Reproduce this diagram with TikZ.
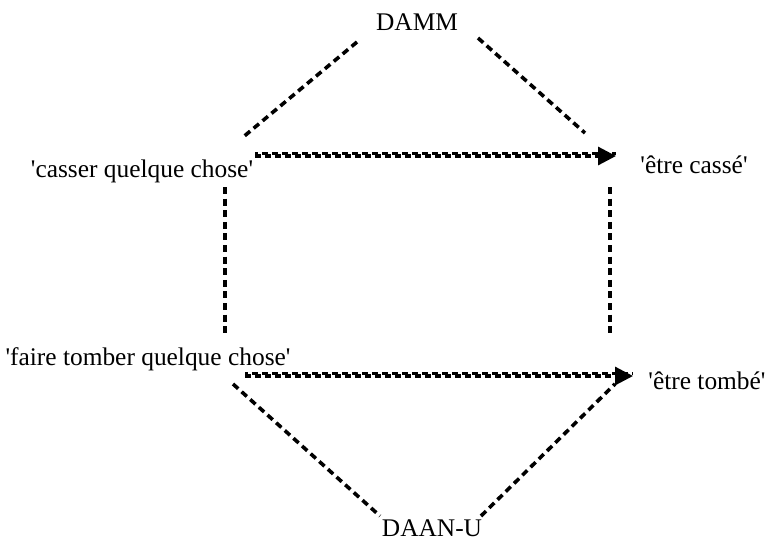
\documentclass[tikz,border=0pt]{standalone}
\usepackage{fontspec}
\setmainfont{Liberation Serif}[Ligatures=TeXOff]
\usetikzlibrary{arrows.meta}
\newcommand{\dlink}[2]{\draw[dlink] (#1) -- (#2);}
\newcommand{\darrow}[2]{\draw[darrow] (#1) -- (#2);}

\begin{document}
\begin{tikzpicture}[x=0.5pt, y=-0.5pt,
    every node/.style={font=\fontsize{12.7}{15}\selectfont, inner sep=0pt},
    dlink/.style={line width=1.8pt, dash pattern=on 3.5pt off 2.3pt},
    darrow/.style={line width=1.6pt, dash pattern=on 3pt off 2pt,
        -{Triangle[length=9pt, width=9pt]},
        preaction={draw, -, line width=1.6pt, dash pattern=on 3pt off 2pt,
            dash phase=1.5pt, transform canvas={yshift=1.4pt}}}]
    \useasboundingbox (0,0) rectangle (777,547);
    % labels
    \node (damm) at (417,22) {DAMM};
    \node (casser) at (142,171) {'casser quelque chose'};
    \node (cass) at (694,165) {'être cassé'};
    \node (faire) at (148,359) {'faire tomber quelque chose'};
    \node (tomb) at (707,381) {'être tombé'};
    \node (daan) at (432,528) {DAAN-U};
    % free ends
    \coordinate (t1) at (357,42);
    \coordinate (t2) at (242,138);
    \coordinate (t3) at (478,38);
    \coordinate (t4) at (585,133);
    \coordinate (a1) at (255,156);
    \coordinate (a2) at (616,156);
    \coordinate (l1) at (225,187);
    \coordinate (l2) at (225,335);
    \coordinate (r1) at (610,187);
    \coordinate (r2) at (610,335);
    \coordinate (b1) at (245,376);
    \coordinate (b2) at (633,376);
    \coordinate (d1) at (233,384);
    \coordinate (d2) at (380,516);
    \coordinate (d3) at (481,516);
    \coordinate (d4) at (615,384);
    % top
    \dlink{t1}{t2}
    \dlink{t3}{t4}
    \darrow{a1}{a2}
    % sides
    \dlink{l1}{l2}
    \dlink{r1}{r2}
    % bottom
    \darrow{b1}{b2}
    \dlink{d1}{d2}
    \dlink{d3}{d4}
\end{tikzpicture}
\end{document}
